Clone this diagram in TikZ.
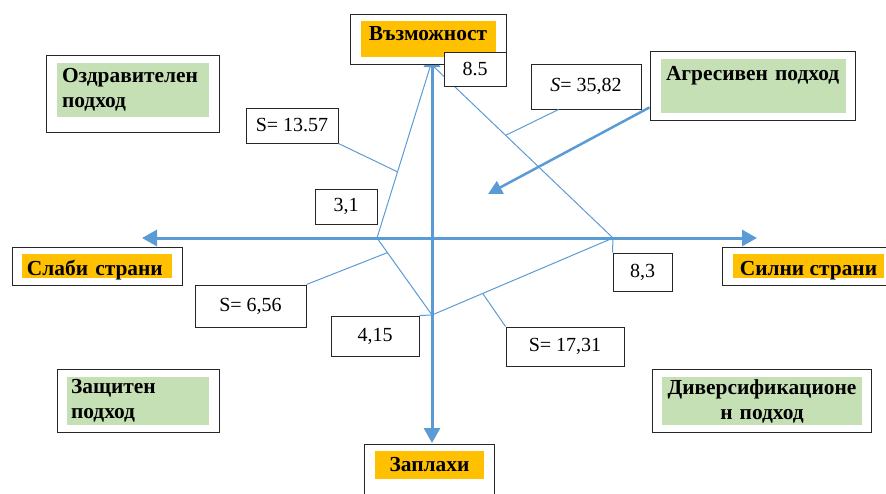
\documentclass[tikz,border=0pt]{standalone}
\usepackage{fontspec}
\setmainfont{Liberation Serif}
\usetikzlibrary{arrows.meta,calc}
\definecolor{swblue}{HTML}{5B9BD5}
\definecolor{swgold}{HTML}{FFC000}
\definecolor{swgreen}{HTML}{C5E0B4}
\tikzset{
 frm/.style={draw=black!85, line width=1pt, fill=white, inner sep=0pt},
 tag/.style={inner sep=0pt, font=\fontsize{21.4}{25}\selectfont\bfseries},
 val/.style={frm, font=\fontsize{20}{24}\selectfont},
 axis/.style={swblue, line width=3pt, {Triangle[length=15pt,width=16pt]}-{Triangle[length=15pt,width=16pt]}},
 edge/.style={swblue, line width=1pt},
}

\begin{document}
\begin{tikzpicture}[x=1pt,y=-1pt]
 \useasboundingbox (0,0) rectangle (886,493);

 \coordinate (T) at (431,64);
 \coordinate (L) at (377,238);
 \coordinate (R) at (613,238);
 \coordinate (B) at (432,315);
 \coordinate (hl) at (142,238);
 \coordinate (hr) at (757,238);
 \coordinate (vt) at (432,52);
 \coordinate (vb) at (432,443);
 \coordinate (ag) at (488,194);

 \draw[axis] (hl) -- (hr);
 \draw[axis] (vt) -- (vb);
 \draw[edge] (T) -- (L) -- (B) -- (R) -- cycle;

 % quadrant and axis labels
 \node[frm, minimum width=156, minimum height=50] (oppf) at (428,39) {};
 \node[tag, fill=swgold, minimum width=135, minimum height=36, text height=14pt, text depth=11pt] (opp) at (oppf) {Възможност};
 \node[frm, minimum width=130, minimum height=54] (thrf) at (429,471) {};
 \node[tag, fill=swgold, minimum width=109, minimum height=28] (thr) at (429.5,465) {Заплахи};
 \node[frm, minimum width=170, minimum height=38] (weakf) at (97,266) {};
 \node[tag, fill=swgold, minimum width=150, minimum height=24, text width=140, align=left, text height=18pt, text depth=0pt] (weak) at (weakf) {Слаби страни};
 \node[frm, minimum width=168, minimum height=38] (strf) at (806,266) {};
 \node[tag, fill=swgold, minimum width=151, minimum height=24, text height=18pt, text depth=0pt] (str) at (808.5,266) {Силни страни};

 \node[frm, minimum width=173, minimum height=77] (heaf) at (132.5,93.5) {};
 \node[tag, fill=swgreen, minimum width=152, minimum height=54, text width=142, align=left] (hea) at (133,90) {Оздравителен\\подход};
 \node[frm, minimum width=205, minimum height=69] (agr) at (752.5,85.5) {};
 \node[tag, fill=swgreen, minimum width=185, minimum height=54, text width=175, align=left] (agrt) at (753.5,86) {Агресивен подход\\\mbox{}};
 \node[frm, minimum width=162, minimum height=63] (deff) at (138,400.5) {};
 \node[tag, fill=swgreen, minimum width=142, minimum height=48, text width=134, align=left] (def) at (138,401) {Защитен\\подход};
 \node[frm, minimum width=219, minimum height=63] (divf) at (761.5,400.5) {};
 \node[tag, fill=swgreen, minimum width=200, minimum height=48, text width=198, align=center] (div) at (762,401) {Диверсификационе\\н подход};

 % values
 \node[val, minimum width=62, minimum height=34] (v85) at (475,69) {8.5};
 \node[val, minimum width=62, minimum height=35] (v31) at (346,206.5) {3,1};
 \node[val, minimum width=88, minimum height=40] (v415) at (375,336) {4,15};
 \node[val, minimum width=59, minimum height=38] (v83) at (642.5,272) {8,3};
 \node[val, minimum width=92, minimum height=35] (s1357) at (292,125.5) {S= 13.57};
 \node[val, minimum width=110, minimum height=45] (s3582) at (586,86.5) {\textit{S}= 35,82};
 \node[val, minimum width=111, minimum height=42] (s656) at (250.5,306) {S= 6,56};
 \node[val, minimum width=118, minimum height=39] (s1731) at (565,346.5) {S= 17,31};

 \coordinate (p1) at ($(T)!.62!(L)$);
 \coordinate (p2) at ($(T)!.41!(R)$);
 \coordinate (p3) at ($(L)!.19!(B)$);
 \coordinate (p4) at ($(B)!.28!(R)$);
 \draw[edge] (s1357.south east) -- (p1);
 \draw[edge] (s3582.220) -- (p2);
 \draw[edge] (s656.north east) -- (p3);
 \draw[edge] (s1731.north west) -- (p4);
 \draw[edge] (v415.north east) -- (B);
 \draw[edge] (v83.north west) -- (R);

 \draw[swblue, line width=2.5pt, -{Triangle[length=14pt,width=14pt]}] (agr.192) -- (ag);
\end{tikzpicture}
\end{document}
